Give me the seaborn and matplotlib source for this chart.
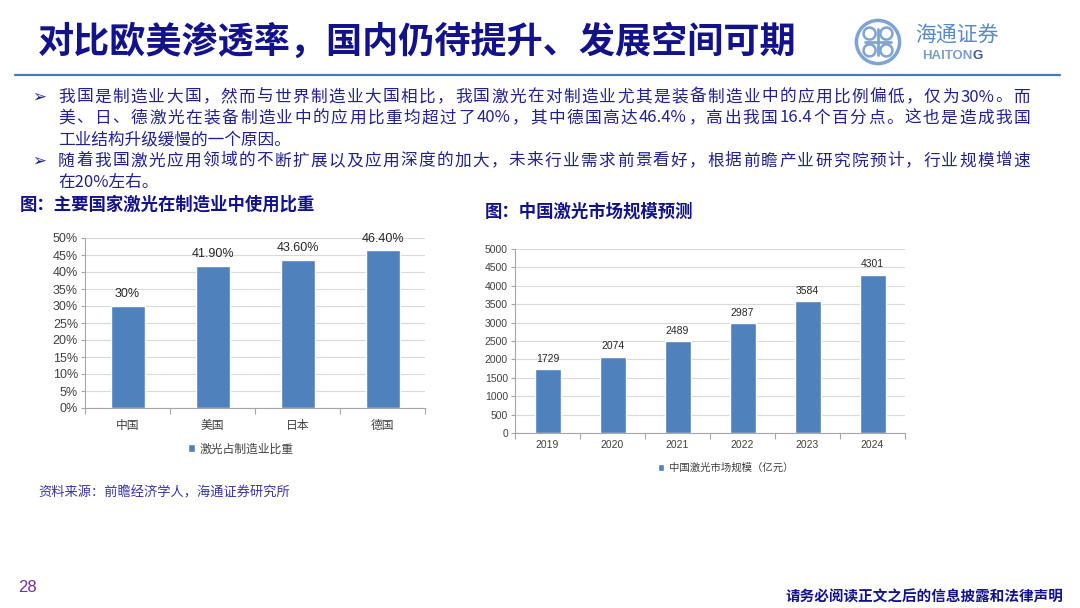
import matplotlib
matplotlib.use('Agg')
import matplotlib.pyplot as plt
import seaborn as sns
import pandas as pd
import numpy as np
from matplotlib.lines import Line2D
from matplotlib.patches import Circle, Arc, Patch

# 数据
countries = ['中国', '美国', '日本', '德国']
share = [0.30, 0.419, 0.436, 0.464]
share_labels = ['30%', '41.90%', '43.60%', '46.40%']

years = ['2019', '2020', '2021', '2022', '2023', '2024']
market = [1729, 2074, 2489, 2987, 3584, 4301]

title = '对比欧美渗透率，国内仍待提升、发展空间可期'
bullet_lines = [
    '我国是制造业大国，然而与世界制造业大国相比，我国激光在对制造业尤其是装备制造业中的应用比例偏低，仅为30%。而',
    '美、日、德激光在装备制造业中的应用比重均超过了40%，其中德国高达46.4%，高出我国16.4个百分点。这也是造成我国',
    '工业结构升级缓慢的一个原因。',
    '随着我国激光应用领域的不断扩展以及应用深度的加大，未来行业需求前景看好，根据前瞻产业研究院预计，行业规模增速',
    '在20%左右。',
]

sns.set_theme(style='whitegrid')
plt.rcParams['font.family'] = ['Noto Sans CJK SC', 'DejaVu Sans']
NUM = ['Liberation Sans', 'Noto Sans CJK SC']

BAR = '#4F81BD'
NAVY = '#12128A'
TXT = '#22228E'
AXIS = '#A6A6A6'
GRID = '#D9D9D9'
TICK = '#404040'

W, H = 1080, 608
fig = plt.figure(figsize=(10.8, 6.08), dpi=100)
fig.patch.set_facecolor('white')


def fx(px):
    return px / W


def fy(py):
    return 1 - py / H


def tokens_of(s):
    out, buf = [], ''
    for ch in s:
        if ord(ch) < 128:
            buf += ch
        else:
            if buf:
                out.append(buf)
                buf = ''
            out.append(ch)
    if buf:
        out.append(buf)
    return out


def justified(text, x0, x1, y, **kw):
    r = fig.canvas.get_renderer()
    toks = tokens_of(text)
    arts = [fig.text(0, fy(y), t, va='center', ha='left', **kw) for t in toks]
    widths = [a.get_window_extent(r).width for a in arts]
    gap = ((x1 - x0) - sum(widths)) / (len(toks) - 1)
    x = x0
    for a, w in zip(arts, widths):
        a.set_x(fx(x))
        x += w + gap


# 标题
fig.text(fx(38), fy(42), title, fontsize=26, color=NAVY, fontweight='bold', va='center', ha='left')
fig.add_artist(Line2D([fx(15), fx(1060)], [fy(75), fy(75)], transform=fig.transFigure,
                      color='#4A78B8', lw=1.6))

# logo
lax = fig.add_axes([fx(854), fy(66), fx(48), 48 / H])
lax.set_xlim(-1, 1)
lax.set_ylim(-1, 1)
lax.set_aspect('equal')
lax.axis('off')
lc = '#7FA3D3'
lax.add_patch(Circle((0, 0), 0.9, fill=False, ec=lc, lw=2.5))
lax.plot([-0.55, 0.55], [0, 0], color=lc, lw=2)
lax.plot([0, 0], [-0.55, 0.55], color=lc, lw=2)
for cx, cy in [(-0.35, 0.35), (0.35, 0.35), (-0.35, -0.35), (0.35, -0.35)]:
    lax.add_patch(Arc((cx, cy), 0.5, 0.5, color=lc, lw=1.8))
fig.text(fx(915), fy(36), '海通证券', fontsize=15, color='#5A8AC6', va='center', ha='left')
t_hai = fig.text(fx(922), fy(56), 'HAITON', fontsize=9.5, color='#7E9FCB', fontweight='bold',
                 family=NUM, va='center', ha='left')
w_hai = t_hai.get_window_extent(fig.canvas.get_renderer()).width
fig.text(fx(922 + w_hai), fy(56), 'G', fontsize=9.5, color='#3B5E8E', fontweight='bold',
         family=NUM, va='center', ha='left')

# 正文要点
line_y = [97, 118, 140, 161, 183]
for i, (s, y) in enumerate(zip(bullet_lines, line_y)):
    if i in (0, 3):
        fig.text(fx(32), fy(y), '➢', fontsize=12, color=TXT, va='center', ha='left',
                 family=['DejaVu Sans'])
    if i in (0, 1, 3):
        justified(s, 58, 1030, y, fontsize=12, color=TXT)
    else:
        fig.text(fx(58), fy(y), s, fontsize=12, color=TXT, va='center', ha='left')

# 图题
fig.text(fx(20), fy(205), '图：主要国家激光在制造业中使用比重', fontsize=12.5, color=NAVY,
         fontweight='bold', va='center', ha='left')
fig.text(fx(485), fy(212), '图：中国激光市场规模预测', fontsize=12.5, color=NAVY,
         fontweight='bold', va='center', ha='left')


def style_axes(ax, n):
    ax.set_facecolor('white')
    ax.set_xlabel('')
    ax.set_ylabel('')
    ax.grid(axis='y', color=GRID, lw=0.8)
    ax.grid(axis='x', visible=False)
    for side in ('top', 'right'):
        ax.spines[side].set_visible(False)
    for side in ('left', 'bottom'):
        ax.spines[side].set_visible(True)
        ax.spines[side].set_color(AXIS)
        ax.spines[side].set_linewidth(0.8)
    ax.set_xlim(-0.5, n - 0.5)
    ax.set_xticks(np.arange(-0.5, n, 1), minor=True)
    ax.tick_params(axis='x', which='major', length=0, colors=TICK)
    ax.tick_params(axis='x', which='minor', bottom=True, length=4, width=0.8, color=AXIS)
    ax.tick_params(axis='y', left=True, length=3, width=0.8, color=AXIS, labelcolor=TICK, pad=2)


# 左图：激光占制造业比重
ax1 = fig.add_axes([fx(85), fy(408), fx(340), 170 / H])
df1 = pd.DataFrame({'国家': countries, '比重': share})
sns.barplot(data=df1, x='国家', y='比重', color=BAR, width=0.4, saturation=1, ax=ax1)
style_axes(ax1, len(countries))
ax1.set_ylim(0, 0.5)
ax1.set_yticks(np.arange(0, 0.501, 0.05))
ax1.set_yticklabels([f'{v * 100:.0f}%' for v in np.arange(0, 0.501, 0.05)], family=NUM, fontsize=9)
ax1.tick_params(axis='x', which='major', labelsize=8.5, pad=8)
ax1.bar_label(ax1.containers[0], labels=share_labels, padding=4, fontsize=9, family=NUM, color='#262626')
ax1.legend([Patch(facecolor=BAR)], ['激光占制造业比重'], loc='center', bbox_to_anchor=(0.459, -0.24),
           frameon=False, fontsize=8.5, handlelength=0.6, handleheight=0.6, handletextpad=0.4,
           labelcolor=TICK)

# 右图：中国激光市场规模
ax2 = fig.add_axes([fx(515), fy(433), fx(390), 184 / H])
df2 = pd.DataFrame({'年份': years, '规模': market})
sns.barplot(data=df2, x='年份', y='规模', color=BAR, width=0.4, saturation=1, ax=ax2)
style_axes(ax2, len(years))
ax2.set_ylim(0, 5000)
ax2.set_yticks(np.arange(0, 5001, 500))
ax2.set_yticklabels([f'{v:.0f}' for v in np.arange(0, 5001, 500)], family=NUM, fontsize=7.5)
ax2.set_xticks(range(len(years)))
ax2.set_xticklabels(years, family=NUM, fontsize=7.5)
ax2.tick_params(axis='x', which='major', pad=5)
ax2.bar_label(ax2.containers[0], labels=[str(v) for v in market], padding=4, fontsize=7.5,
              family=NUM, color='#262626')
ax2.legend([Patch(facecolor=BAR)], ['中国激光市场规模（亿元）'], loc='center', bbox_to_anchor=(0.54, -0.19),
           frameon=False, fontsize=7.5, handlelength=0.6, handleheight=0.6, handletextpad=0.4,
           labelcolor=TICK)

# 来源与页脚
fig.text(fx(38), fy(493), '资料来源：前瞻经济学人，海通证券研究所', fontsize=9.5, color='#3535A5',
         va='center', ha='left')
fig.text(fx(18), fy(588), '28', fontsize=12, color='#7030A0', family=NUM, va='center', ha='left')
fig.text(fx(1063), fy(596), '请务必阅读正文之后的信息披露和法律声明', fontsize=10.5, color=NAVY,
         fontweight='bold', va='center', ha='right')

fig.savefig('out.png', dpi=100)
